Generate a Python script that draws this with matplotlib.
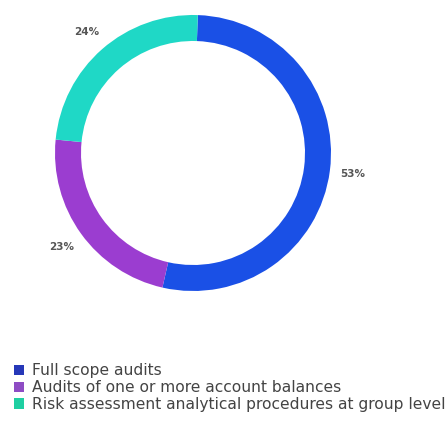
import matplotlib
matplotlib.use("Agg")
import matplotlib.pyplot as plt
from matplotlib.patches import Patch

categories = ["Full scope audits",
              "Audits of one or more account balances",
              "Risk assessment analytical procedures at group level"]
values = [53, 23, 24]
labels = ["53%", "23%", "24%"]
ring_colors = ["#1a50e6", "#9b3dd0", "#1fd8c6"]
legend_colors = ["#2638b8", "#8e4cc4", "#1fcfa2"]

fig = plt.figure(figsize=(4.48, 4.21), dpi=100)
ax = fig.add_axes([0, 0, 1, 1])

wedges, texts = ax.pie(values, colors=ring_colors, startangle=88, counterclock=False,
                       center=(193, 268), radius=138, labels=labels, labeldistance=1.17,
                       wedgeprops=dict(width=26, edgecolor="none"),
                       textprops=dict(fontsize=7.5, color="#555555", fontweight="bold",
                                      ha="center", va="center"), frame=True)
ax.set_xlim(0, 448)
ax.set_ylim(0, 421)
ax.set_aspect("equal")
ax.axis("off")

handles = [Patch(facecolor=c, edgecolor="none") for c in legend_colors]
fig.legend(handles, categories, loc="upper left", bbox_to_anchor=(0.031, 0.137),
           frameon=False, fontsize=11.2, labelcolor="#444444", handlelength=0.64,
           handleheight=0.64, handletextpad=0.5, labelspacing=0.12, borderaxespad=0,
           borderpad=0)

fig.savefig("out.png", dpi=100)
